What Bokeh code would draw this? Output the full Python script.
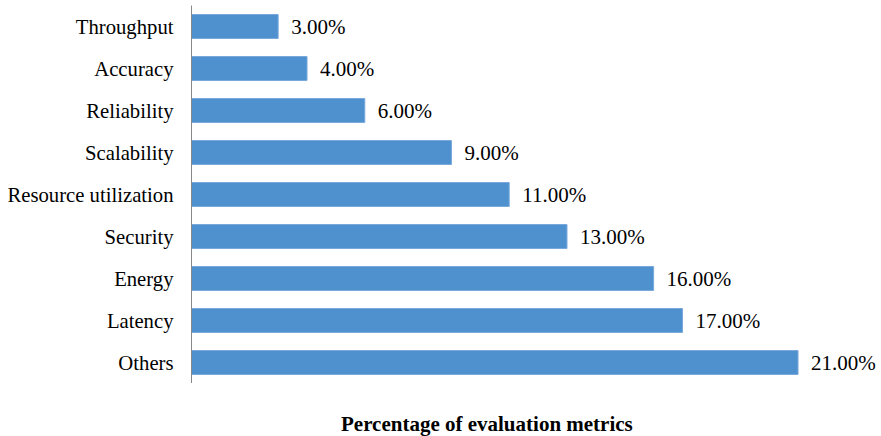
from bokeh.plotting import figure
from bokeh.models import (ColumnDataSource, LabelSet, Legend, LegendItem, Range1d,
                          CDSView, IndexFilter)
from bokeh.core.properties import value
from bokeh.layouts import column
from bokeh.embed import file_html
from bokeh.resources import INLINE

# Data (bottom to top)
categories = ["Others", "Latency", "Energy", "Security", "Resource utilization",
              "Scalability", "Reliability", "Accuracy", "Throughput"]
values = [21, 17, 16, 13, 11, 9, 6, 4, 3]
value_labels = [f"{v:.2f}%" for v in values]
series_name = "Percentage of evaluation metrics"

BAR_FILL = "#4F91CE"
BAR_LINE = "#78A9DC"

source = ColumnDataSource(dict(cat=categories, val=values, lab=value_labels))

# Main chart
p = figure(width=881, height=383, output_backend="svg", toolbar_location=None,
           y_range=categories,
           x_range=Range1d(0, 23.89),
           min_border_left=191, min_border_right=0, min_border_top=5,
           min_border_bottom=0)
p.outline_line_color = None
p.xgrid.visible = False
p.ygrid.visible = False
p.xaxis.visible = False

p.hbar(y="cat", right="val", left=0, height=0.57, source=source,
       fill_color=BAR_FILL, line_color=BAR_LINE, line_width=1)

labels = LabelSet(x="val", y="cat", text="lab", source=source, x_offset=13,
                  text_baseline="middle", text_align="left",
                  text_font=value("Liberation Serif"), text_font_size="21px",
                  text_color="#000000")
p.add_layout(labels)

ya = p.yaxis[0]
ya.axis_line_color = "#888888"
ya.axis_line_width = 1
ya.major_tick_line_color = None
ya.minor_tick_line_color = None
ya.major_tick_out = 0
ya.major_tick_in = 0
ya.major_label_standoff = 18
ya.major_label_text_font = "Liberation Serif"
ya.major_label_text_font_size = "20.7px"
ya.major_label_text_color = "#000000"

# Legend strip below the chart (same series, no bars drawn in it)
p2 = figure(width=881, height=53, output_backend="svg", toolbar_location=None,
            y_range=categories, x_range=Range1d(0, 23.89),
            min_border_left=0, min_border_right=0, min_border_top=0,
            min_border_bottom=0)
p2.outline_line_color = None
p2.xgrid.visible = False
p2.ygrid.visible = False
p2.xaxis.visible = False
p2.yaxis.visible = False
r2 = p2.hbar(y="cat", right="val", left=0, height=0.57, source=source,
             view=CDSView(filter=IndexFilter([])),
             fill_color=BAR_FILL, line_color=BAR_LINE, line_width=1)

legend = Legend(items=[LegendItem(label=series_name, renderers=[r2])],
                location=(134, -1), orientation="horizontal",
                glyph_width=11, glyph_height=11, label_standoff=5,
                padding=0, margin=0, border_line_color=None,
                background_fill_alpha=0,
                label_text_font="Liberation Serif", label_text_font_size="21px",
                label_text_font_style="bold", label_text_color="#000000")
p2.add_layout(legend)

layout = column(p, p2, spacing=0)
open("out.html", "w").write(file_html(layout, INLINE))
